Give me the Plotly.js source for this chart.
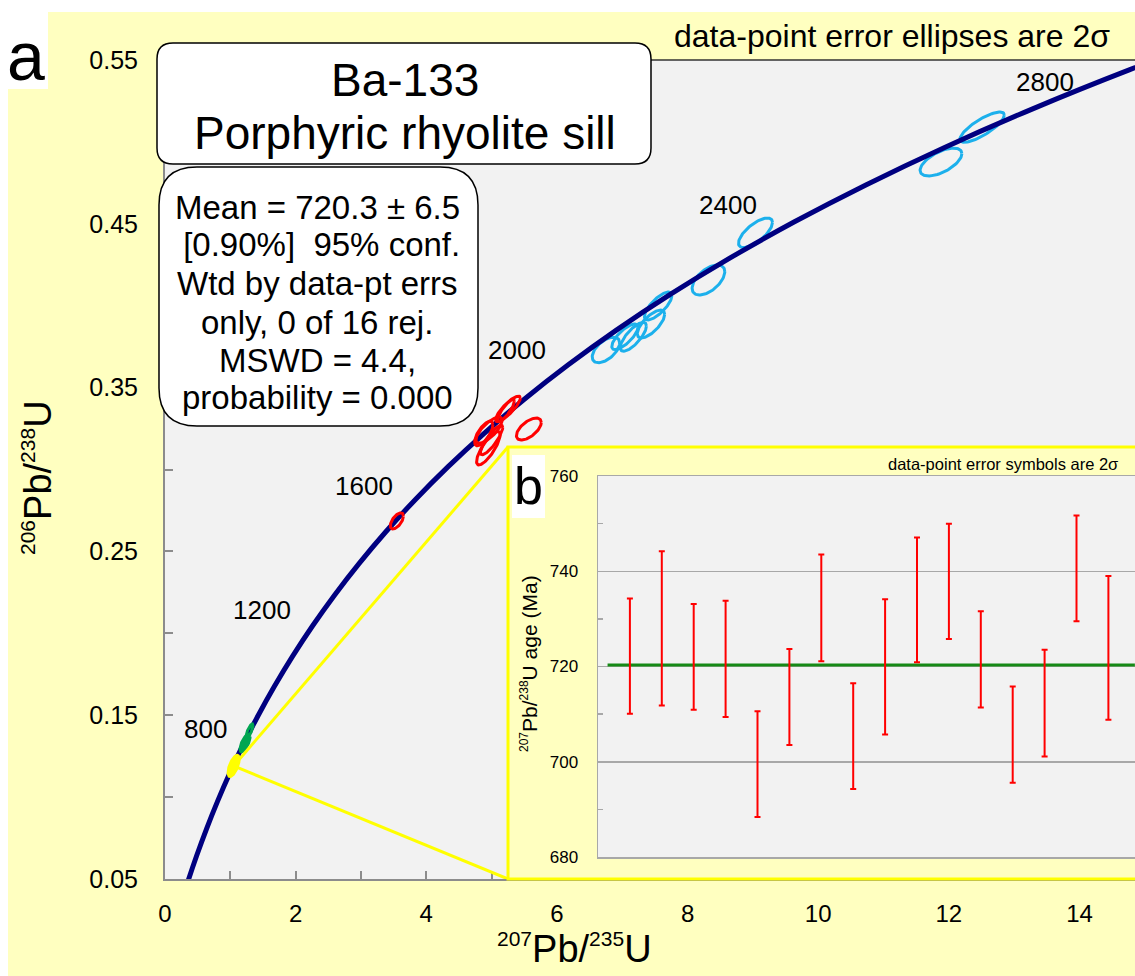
<!DOCTYPE html>
<html><head><meta charset="utf-8">
<script src="https://cdn.plot.ly/plotly-3.0.1.min.js"></script>
<style>html,body{margin:0;padding:0;background:#fff}</style>
</head><body><div id="chart" style="width:1135px;height:976px"></div>
<script>
// ---- Concordia curve (age Ma, 207Pb/235U, 206Pb/238U) ----
const concAge = [200,300,400,500,600,700,800,900,1000,1100,1200,1300,1400,1500,1600,1700,1800,1900,2000,2100,2200,2300,2400,2500,2600,2700,2800,2900];
const concX = [0.2177,0.3437,0.4828,0.6363,0.8056,0.9925,1.1987,1.4263,1.6774,1.9545,2.2603,2.5977,2.9701,3.3810,3.8344,4.3348,4.8869,5.4962,6.1685,6.9104,7.7292,8.6326,9.6296,10.7297,11.9437,13.2834,14.7616,16.39];
const concY = [0.03151,0.04764,0.06402,0.08065,0.09754,0.11470,0.13213,0.14983,0.16780,0.18606,0.20460,0.22343,0.24256,0.26199,0.28172,0.30175,0.32211,0.34277,0.36377,0.38509,0.40674,0.42873,0.45107,0.47375,0.49679,0.52019,0.54396,0.56810];

// ---- Error ellipses (centre, 2s half-extent in x and y, correlation) ----
const blueCX  = [12.51, 11.88, 9.04, 8.32, 7.55, 7.44, 7.17, 7.04, 6.75];
const blueCY  = [0.509, 0.4877, 0.4445, 0.4157, 0.3998, 0.3888, 0.381, 0.381, 0.373];
const blueSX  = [0.34, 0.32, 0.26, 0.25, 0.21, 0.21, 0.20, 0.20, 0.21];
const blueSY  = [0.0092, 0.0085, 0.0090, 0.0092, 0.0085, 0.0085, 0.0088, 0.0078, 0.0078];
const blueRho = [0.80, 0.60, 0.70, 0.55, 0.75, 0.70, 0.75, 0.75, 0.55];

const redCX  = [3.55, 5.25, 5.22, 4.96, 4.95, 5.00, 4.88, 5.57];
const redCY  = [0.2686, 0.337, 0.336, 0.324, 0.313, 0.318, 0.322, 0.3247];
const redSX  = [0.10, 0.19, 0.13, 0.20, 0.18, 0.17, 0.14, 0.19];
const redSY  = [0.0049, 0.0078, 0.0068, 0.0080, 0.0102, 0.0090, 0.0075, 0.0067];
const redRho = [0.6, 0.85, 0.85, 0.75, 0.8, 0.85, 0.7, 0.6];

const greenCX  = [1.294, 1.225];
const greenCY  = [0.1404, 0.1330];
const greenSX  = [0.054, 0.077];
const greenSY  = [0.0043, 0.0053];
const greenRho = [0.8, 0.7];

const yellowCX  = [1.05];
const yellowCY  = [0.119];
const yellowSX  = [0.092];
const yellowSY  = [0.0068];
const yellowRho = [0.6];

const ageLabels = ['800','1200','1600','2000','2400','2800'];

// ---- Inset b: 207Pb/238U ages of the 16 grains ----
const grain    = [1,2,3,4,5,6,7,8,9,10,11,12,13,14,15,16];
const grainAge = [722.2,728.0,722.0,721.6,699.5,713.6,732.3,705.4,719.9,734.0,737.9,721.5,705.7,712.3,740.6,723.9];
const grainErr = [12.1,16.2,11.1,12.2,11.1,10.1,11.2,11.1,14.2,13.1,12.1,10.1,10.1,11.2,11.1,15.1];
const meanAge = 720.3;

// ---- geometry helpers ----
const L=165, T=60, W=970, H=819;
const XMAX=14.85, YMIN=0.05, YMAX=0.55;
const PX = v => (v-L)/W;
const PY = v => (T+H-v)/H;

function ellipse(cx,cy,sx,sy,rho){
  const xs=[],ys=[],n=90,s=Math.sqrt(1-rho*rho);
  for(let i=0;i<=n;i++){const t=2*Math.PI*i/n;
    xs.push(cx+sx*Math.cos(t)); ys.push(cy+sy*(rho*Math.cos(t)+s*Math.sin(t)));}
  return [xs,ys];
}
function ellipseTrace(CX,CY,SX,SY,R,color,fills,width){
  const out=[];
  for(let i=0;i<CX.length;i++){
    const [xs,ys]=ellipse(CX[i],CY[i],SX[i],SY[i],R[i]);
    const filled = fills[i];
    const tr={type:'scatter',mode:'lines',x:xs,y:ys,xaxis:'x',yaxis:'y',hoverinfo:'skip',
      line:{color:color,width:width}};
    if(filled){tr.fill='toself';tr.fillcolor=color;}
    out.push(tr);
  }
  return out;
}
function rrect(x0,y0,x1,y1,r){
  const p=(x,y)=>PX(x).toFixed(5)+','+PY(y).toFixed(5);
  return 'M'+p(x0+r,y0)+' L'+p(x1-r,y0)+' Q'+p(x1,y0)+' '+p(x1,y0+r)+
    ' L'+p(x1,y1-r)+' Q'+p(x1,y1)+' '+p(x1-r,y1)+' L'+p(x0+r,y1)+' Q'+p(x0,y1)+' '+p(x0,y1-r)+
    ' L'+p(x0,y0+r)+' Q'+p(x0,y0)+' '+p(x0+r,y0)+' Z';
}

const traces=[];
traces.push(...ellipseTrace(blueCX,blueCY,blueSX,blueSY,blueRho,'#1cb0ec',blueCX.map(()=>false),3));
traces.push({type:'scatter',mode:'lines',x:concX,y:concY,text:concAge,xaxis:'x',yaxis:'y',
  line:{color:'#000080',width:5,shape:'spline'},hoverinfo:'skip'});
traces.push(...ellipseTrace(redCX,redCY,redSX,redSY,redRho,'#ff0000',redCX.map(()=>false),3));
traces.push(...ellipseTrace(greenCX,greenCY,greenSX,greenSY,greenRho,'#00a652',[false,true],3));
traces.push(...ellipseTrace(yellowCX,yellowCY,yellowSX,yellowSY,yellowRho,'#ffff00',[true],2));
// overlay axis carrying the x tick labels
traces.push({type:'scatter',x:[null],y:[null],xaxis:'x3',yaxis:'y',hoverinfo:'skip'});
// inset
traces.push({type:'scatter',mode:'lines',x:[0.3,16.83],y:[meanAge,meanAge],xaxis:'x2',yaxis:'y2',
  line:{color:'#168a16',width:3},hoverinfo:'skip'});
traces.push({type:'scatter',mode:'markers',x:grain,y:grainAge,xaxis:'x2',yaxis:'y2',
  marker:{size:1,color:'rgba(0,0,0,0)'},
  error_y:{type:'data',array:grainErr,visible:true,color:'#ff0000',thickness:2,width:3},hoverinfo:'skip'});

const tickGray='#8c8c8c', inGray='#a8a8a8';
const font='Liberation Sans, Arial, sans-serif';

// age label positions (pixel centres)
const ageLabelPos=[[205,729],[262,610],[364,486],[517,350],[728,205],[1045,82]];

const annotations=[];
function ann(text,x,y,size,opts){annotations.push(Object.assign({text:text,x:PX(x),y:PY(y),xref:'paper',yref:'paper',
  showarrow:false,font:{size:size,color:'#000',family:font},xanchor:'center',yanchor:'middle'},opts||{}));}
const sup=(t,s)=>'<sup><span style="font-size:'+s+'px">'+t+'</span></sup>';
ageLabels.forEach((t,i)=>ann(t,ageLabelPos[i][0],ageLabelPos[i][1],26));
ann('Ba-133',405,80,46);
ann('Porphyric rhyolite sill',405,133,46);
const stats=['Mean = 720.3 \u00b1 6.5','\u00a0[0.90%]\u00a0\u00a095% conf.','Wtd by data-pt errs','only, 0 of 16 rej.','MSWD = 4.4,','probability = 0.000'];
const statsY=[207,245,283,322,360,397];
stats.forEach((t,i)=>ann(t,317,statsY[i],33));
ann('data-point error ellipses are 2\u03c3',672,36,32,{xanchor:'left'});
ann('a',26,56,68);
ann('b',528,486,52);
ann('data-point error symbols are 2\u03c3',886,464,16.5,{xanchor:'left'});
ann(sup('207',12)+'Pb/'+sup('238',12)+'U age (Ma)',529,664,21,{textangle:-90});
ann(sup('207',21)+'Pb/'+sup('235',21)+'U',574,949,38);
ann(sup('206',21)+'Pb/'+sup('238',21)+'U',38,478,38,{textangle:-90});

const yelCornerX = PX(508)*XMAX, yelTopY = YMIN+PY(447)*(YMAX-YMIN);
const shapes=[
  // white page margins
  {type:'rect',xref:'paper',yref:'paper',x0:PX(0),x1:PX(1135),y0:PY(12),y1:PY(-2),fillcolor:'#fff',line:{width:0},layer:'below'},
  {type:'rect',xref:'paper',yref:'paper',x0:PX(0),x1:PX(8),y0:PY(978),y1:PY(-2),fillcolor:'#fff',line:{width:0},layer:'below'},
  {type:'rect',xref:'paper',yref:'paper',x0:PX(0),x1:PX(48),y0:PY(89),y1:PY(-2),fillcolor:'#fff',line:{width:0},layer:'below'},
  // inset frame fill
  {type:'rect',xref:'paper',yref:'paper',x0:PX(508),x1:PX(1140),y0:PY(879),y1:PY(447),fillcolor:'#ffffc0',line:{width:0},layer:'below'},
  {type:'rect',xref:'paper',yref:'paper',x0:PX(512),x1:PX(545),y0:PY(518),y1:PY(455),fillcolor:'#fff',line:{width:0},layer:'below'},
  // top border of plot
  {type:'line',xref:'paper',yref:'paper',x0:0,x1:1,y0:1,y1:1,line:{color:'#333',width:1.5},layer:'above'},
  // inset frame border
  {type:'path',xref:'paper',yref:'paper',path:'M'+PX(1140)+','+PY(447)+' L'+PX(508)+','+PY(447)+' L'+PX(508)+','+PY(879)+' L'+PX(1140)+','+PY(879),
    line:{color:'#ffff00',width:3},layer:'above'},
  // connecting lines
  {type:'line',xref:'x',yref:'y',x0:yellowCX[0],y0:yellowCY[0],x1:yelCornerX,y1:yelTopY,line:{color:'#ffff00',width:3},layer:'above'},
  {type:'line',xref:'x',yref:'y',x0:yellowCX[0],y0:yellowCY[0],x1:yelCornerX,y1:YMIN,line:{color:'#ffff00',width:3},layer:'above'},
  // title & stats boxes
  {type:'path',xref:'paper',yref:'paper',path:rrect(157,43,651,164,16),fillcolor:'#fff',line:{color:'#000',width:1.5},layer:'above'},
  {type:'path',xref:'paper',yref:'paper',path:rrect(159,167,478,426,38),fillcolor:'#fff',line:{color:'#000',width:1.5},layer:'above'}
];

const layout={
  width:1135,height:976,margin:{l:L,r:0,t:T,b:976-T-H,pad:0},
  paper_bgcolor:'#ffffc0',plot_bgcolor:'#f2f2f2',showlegend:false,
  font:{family:font,color:'#000'},
  xaxis:{domain:[0,1],range:[0,XMAX],tickvals:[1,2,3,4,5],ticks:'inside',ticklen:8,tickwidth:2,tickcolor:tickGray,
    showticklabels:false,showline:true,linecolor:tickGray,linewidth:2,showgrid:false,zeroline:false},
  xaxis3:{overlaying:'x',anchor:'y',side:'bottom',range:[0,XMAX],tickvals:[0,2,4,6,8,10,12,14],ticks:'',
    showline:false,showgrid:false,zeroline:false,tickfont:{size:24},ticklabelstandoff:18},
  yaxis:{domain:[0,1],range:[YMIN,YMAX],tick0:0.05,dtick:0.1,tickformat:'.2f',ticks:'inside',ticklen:8,tickwidth:2,tickcolor:tickGray,
    minor:{dtick:0.05,ticks:'inside',ticklen:8,tickwidth:2,tickcolor:tickGray,showgrid:false},
    showline:true,linecolor:tickGray,linewidth:2,showgrid:false,zeroline:false,tickfont:{size:25},ticklabelstandoff:20},
  xaxis2:{domain:[PX(598),1],anchor:'y2',range:[0,(1135-598)/31.9],showticklabels:false,ticks:'',showgrid:false,zeroline:false,
    showline:true,mirror:true,linecolor:inGray,linewidth:1.5},
  yaxis2:{domain:[PY(857),PY(476)],anchor:'x2',range:[680,760],dtick:20,tickfont:{size:17},showgrid:true,gridcolor:inGray,gridwidth:1.5,
    zeroline:false,showline:true,linecolor:inGray,linewidth:1.5,ticks:'',
    minor:{dtick:10,ticks:'inside',ticklen:5,tickwidth:1.5,tickcolor:inGray,showgrid:false},ticklabelstandoff:15},
  shapes:shapes,annotations:annotations
};
Plotly.newPlot('chart',traces,layout,{staticPlot:true,displayModeBar:false});
</script></body></html>
